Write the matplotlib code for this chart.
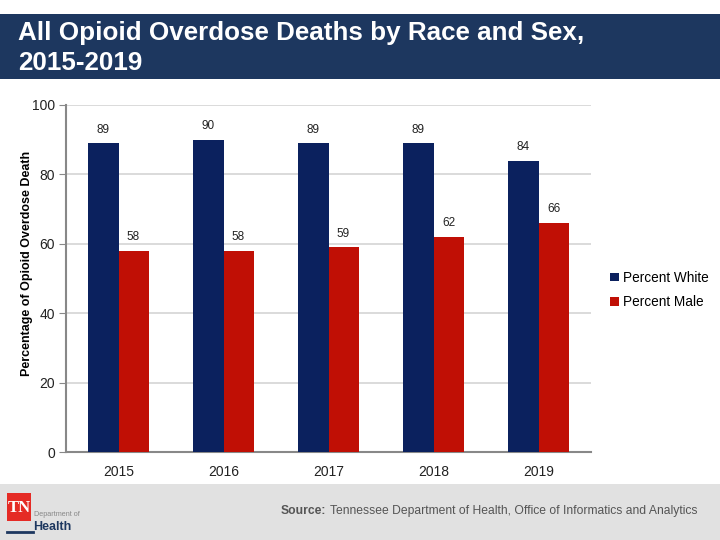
import matplotlib.pyplot as plt
import matplotlib.patches as patches
import numpy as np

plt.rcParams['font.family'] = ['Liberation Sans', 'DejaVu Sans']

years = ['2015', '2016', '2017', '2018', '2019']
pct_white = [89, 90, 89, 89, 84]
pct_male = [58, 58, 59, 62, 66]
series_names = ['Percent White', 'Percent Male']
colors = ['#0B215E', '#C00F05']

W, H = 720, 540
fig = plt.figure(figsize=(W / 100, H / 100), dpi=100)
fig.patch.set_facecolor('white')

# title banner
fig.patches.append(patches.Rectangle((0, 1 - 79 / H), 1, 65 / H, transform=fig.transFigure,
                                     facecolor='#1D375F', edgecolor='none', zorder=0))
fig.text(18 / W, 1 - 33 / H, 'All Opioid Overdose Deaths by Race and Sex,', color='white',
         fontsize=18.7, fontweight='bold', va='center', ha='left')
fig.text(18 / W, 1 - 63 / H, '2015-2019', color='white',
         fontsize=18.7, fontweight='bold', va='center', ha='left')

# footer band with logo
fig.patches.append(patches.Rectangle((0, 0), 1, 56 / H, transform=fig.transFigure,
                                     facecolor='#E1E1E1', edgecolor='none', zorder=0))
fig.patches.append(patches.Rectangle((7 / W, 1 - 521 / H), 24 / W, 28 / H, transform=fig.transFigure,
                                     facecolor='#E52B25', edgecolor='none', zorder=1))
fig.text(19 / W, 1 - 508 / H, 'TN', color='white', fontsize=12, fontweight='bold',
         family='Liberation Serif', ha='center', va='center')
fig.text(34 / W, 1 - 515 / H, 'Department of', color='#888888', fontsize=5.2, ha='left', va='center')
fig.text(33 / W, 1 - 527 / H, 'Health', color='#1D375F', fontsize=9, fontweight='bold',
         ha='left', va='center')
fig.lines.append(plt.Line2D([7 / W, 33 / W], [1 - 532 / H, 1 - 532 / H], transform=fig.transFigure,
                            color='#1D375F', lw=2))
fig.text(326 / W, 1 - 511 / H, 'Source:', color='#555555', fontsize=8.7, fontweight='bold',
         ha='right', va='center')
fig.text(697 / W, 1 - 511 / H, 'Tennessee Department of Health, Office of Informatics and Analytics',
         color='#555555', fontsize=8.7, ha='right', va='center')

# chart
ax = fig.add_axes([66 / W, 1 - 452 / H, 525 / W, 347 / H])
x = np.arange(len(years))
bw = 0.286
b1 = ax.bar(x - bw / 2, pct_white, bw, color=colors[0], label=series_names[0], zorder=3)
b2 = ax.bar(x + bw / 2, pct_male, bw, color=colors[1], label=series_names[1], zorder=3)
for bars, vals in [(b1, pct_white), (b2, pct_male)]:
    for b, v in zip(bars, vals):
        ax.annotate(f'{v}', (b.get_x() + b.get_width() / 2, v), xytext=(0, 5.5),
                    textcoords='offset points', ha='center', va='bottom', fontsize=8.5, color='#222222')

ax.set_xlim(-0.5, 4.5)
ax.set_ylim(0, 100)
ax.set_yticks(range(0, 101, 20))
ax.set_xticks(x)
ax.set_xticklabels(years)
ax.tick_params(axis='both', labelsize=10, colors='#222222')
ax.tick_params(axis='x', length=0, pad=9)
ax.tick_params(axis='y', length=5, color='#888888', pad=3)
ax.grid(axis='y', color='#D4D4D4', lw=1.2, zorder=0)
ax.set_axisbelow(True)
for s in ['top', 'right']:
    ax.spines[s].set_visible(False)
for s in ['left', 'bottom']:
    ax.spines[s].set_color('#888888')
    ax.spines[s].set_linewidth(1.5)
ax.set_ylabel('Percentage of Opioid Overdose Death', fontsize=9, fontweight='bold')
ax.yaxis.set_label_coords(-(66 - 33) / 525, 0.5 + 15 / 347)

ax.legend(loc='center left', bbox_to_anchor=(605 / W, 1 - 290 / H), bbox_transform=fig.transFigure,
          frameon=False, fontsize=9.8, handlelength=0.6, handleheight=0.6, handletextpad=0.3,
          labelspacing=0.75, borderaxespad=0)

fig.savefig('out.png', dpi=100)
